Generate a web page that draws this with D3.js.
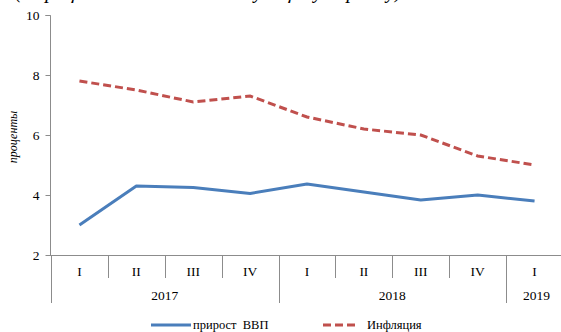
<!DOCTYPE html>
<html>
<head>
<meta charset="utf-8">
<script src="https://cdn.jsdelivr.net/npm/d3@7"></script>
<style>
  html, body { margin: 0; padding: 0; background: #fff; }
  svg { display: block; font-family: "Liberation Serif", "Times New Roman", serif; }
</style>
</head>
<body>
<svg id="chart" width="561" height="332"></svg>
<script>
// Quarterly series, 2017 Q1 – 2019 Q1
const quarters = ["I", "II", "III", "IV", "I", "II", "III", "IV", "I"];
const years = [
  { label: "2017", span: 4 },
  { label: "2018", span: 4 },
  { label: "2019", span: 1 }
];
const gdpGrowth = [3.0, 4.3, 4.25, 4.05, 4.37, 4.1, 3.83, 4.0, 3.8];
const inflation = [7.8, 7.5, 7.1, 7.3, 6.6, 6.2, 6.0, 5.3, 5.0];
const yTicks = [2, 4, 6, 8, 10];
const seriesNames = ["прирост  ВВП", "Инфляция"];

const svg = d3.select("#chart");
const plotLeft = 51, plotRight = 563, plotTop = 15, plotBottom = 255;
const axisColor = "#8c8c8c";

const x = d3.scaleBand().domain(d3.range(quarters.length)).range([plotLeft, plotRight]);
const y = d3.scaleLinear().domain([2, 10]).range([plotBottom, plotTop]);

// Heading, mostly above the visible area
svg.append("text")
  .attr("x", 15).attr("y", -2)
  .attr("font-size", 20).attr("font-style", "italic")
  .attr("fill", "#000")
  .text("(в процентах к соответствующему периоду)");

// Y axis
const yAxis = d3.axisLeft(y).tickValues(yTicks).tickSize(5).tickPadding(6).tickFormat(d3.format("d"));
const gy = svg.append("g").attr("transform", `translate(${plotLeft - 0.5},0)`).call(yAxis);
gy.select(".domain").attr("stroke", axisColor).attr("d", `M-5,${plotTop + 0.5}H0V${plotBottom}`);
gy.selectAll(".tick line").attr("stroke", axisColor);
gy.selectAll(".tick text").attr("font-size", 13.5).attr("fill", "#000")
  .attr("font-family", "Liberation Serif, serif");

svg.append("text")
  .attr("transform", `translate(17,${(plotTop + plotBottom) / 2 + 2}) rotate(-90)`)
  .attr("text-anchor", "middle")
  .attr("font-size", 12).attr("font-style", "italic")
  .text("проценты");

// X axis baseline
svg.append("line")
  .attr("x1", plotLeft - 5).attr("x2", 561)
  .attr("y1", plotBottom + 0.5).attr("y2", plotBottom + 0.5)
  .attr("stroke", axisColor);

// Quarter dividers and labels
const yearStarts = new Set();
let acc = 0;
years.forEach(yr => { yearStarts.add(acc); acc += yr.span; });
d3.range(quarters.length).forEach(i => {
  const xp = x(i);
  const isYear = yearStarts.has(i);
  svg.append("line")
    .attr("x1", Math.round(xp) + 0.5).attr("x2", Math.round(xp) + 0.5)
    .attr("y1", plotBottom).attr("y2", isYear ? 303 : 278)
    .attr("stroke", axisColor);
});
svg.selectAll("text.q").data(quarters).enter().append("text")
  .attr("class", "q")
  .attr("x", (d, i) => x(i) + x.bandwidth() / 2)
  .attr("y", 276)
  .attr("text-anchor", "middle")
  .attr("font-size", 13.5)
  .text(d => d);

// Year labels, centred under their quarters
acc = 0;
years.forEach(yr => {
  const x0 = x(acc);
  const x1 = acc + yr.span < quarters.length ? x(acc + yr.span) : plotRight;
  svg.append("text")
    .attr("x", (x0 + x1) / 2 + (yr.span === 1 ? 2 : 0))
    .attr("y", 300)
    .attr("text-anchor", "middle")
    .attr("font-size", 13.5)
    .text(yr.label);
  acc += yr.span;
});

// Lines
const line = d3.line()
  .x((d, i) => x(i) + x.bandwidth() / 2)
  .y(d => y(d));

svg.append("path").datum(gdpGrowth)
  .attr("d", line)
  .attr("fill", "none")
  .attr("stroke", "#4a7ebb")
  .attr("stroke-width", 3)
  .attr("stroke-linejoin", "round");

svg.append("path").datum(inflation)
  .attr("d", line)
  .attr("fill", "none")
  .attr("stroke", "#c0504d")
  .attr("stroke-width", 3)
  .attr("stroke-dasharray", "8,4");

// Legend
const legend = svg.append("g");
legend.append("line")
  .attr("x1", 151).attr("x2", 191).attr("y1", 325).attr("y2", 325)
  .attr("stroke", "#4a7ebb").attr("stroke-width", 3);
legend.append("text")
  .attr("x", 193).attr("y", 329)
  .attr("font-size", 12.5)
  .style("white-space", "pre")
  .text(seriesNames[0]);
legend.append("line")
  .attr("x1", 323).attr("x2", 359).attr("y1", 325).attr("y2", 325)
  .attr("stroke", "#c0504d").attr("stroke-width", 3)
  .attr("stroke-dasharray", "8,4");
legend.append("text")
  .attr("x", 367).attr("y", 329)
  .attr("font-size", 12.5)
  .text(seriesNames[1]);
</script>
</body>
</html>
